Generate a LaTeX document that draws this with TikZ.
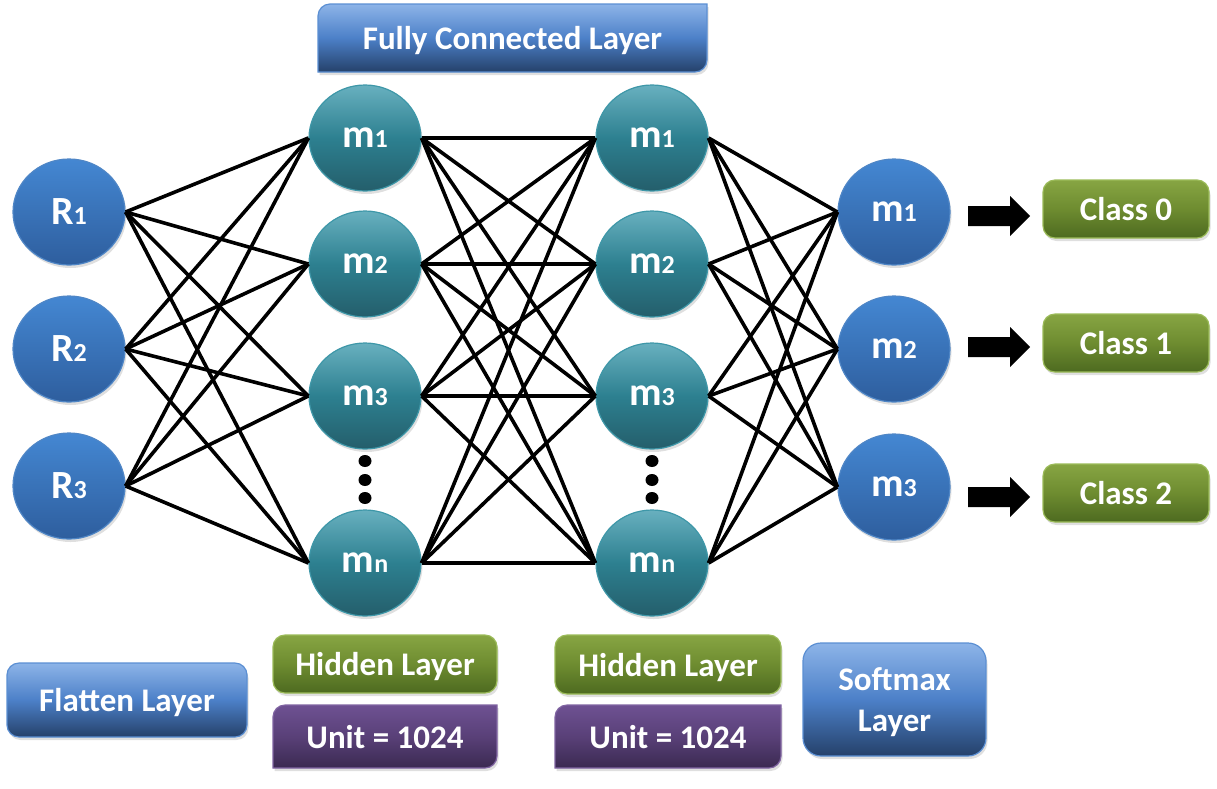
\documentclass[tikz,border=0pt]{standalone}
\usepackage{fontspec}
\setmainfont{Carlito}
\usetikzlibrary{shapes.geometric,shadows,calc}
\definecolor{btop}{HTML}{4487D2}
\definecolor{bbot}{HTML}{2E5E9E}
\definecolor{bbord}{HTML}{4F86C6}
\definecolor{ttop}{HTML}{68B0BF}
\definecolor{tmid}{HTML}{2D8090}
\definecolor{tbot}{HTML}{245E6B}
\definecolor{tbord}{HTML}{3E97A8}
\definecolor{lbtop}{HTML}{8DB4E8}
\definecolor{lbmid}{HTML}{4C80C8}
\definecolor{lbbot}{HTML}{25416A}
\definecolor{lbbord}{HTML}{5B8FD3}
\definecolor{gtop}{HTML}{87A543}
\definecolor{gmid}{HTML}{6E8C30}
\definecolor{gbot}{HTML}{4D6A20}
\definecolor{gbord}{HTML}{9BBB59}
\definecolor{ptop}{HTML}{6E5192}
\definecolor{pmid}{HTML}{594078}
\definecolor{pbot}{HTML}{3B2A51}
\definecolor{pbord}{HTML}{8064A2}
\newcommand\neulab[2]{\raisebox{-3pt}{\fontsize{40}{40}\selectfont #1\fontsize{26}{26}\selectfont #2}}
\newcommand\halfbox[7]{%
  \path[#6] (#2,{-#3-12}) arc[start angle=180,end angle=90,radius=12] -- (#4,-#3)
     -- (#4,{-#5+12}) arc[start angle=0,end angle=-90,radius=12] -- (#2,-#5) -- cycle;
  \node[boxtext] (#1) at ({(#2+#4)/2},{-(#3+#5)/2}) {#7};}
\tikzset{
  shad/.style={drop shadow={shadow xshift=1.5pt,shadow yshift=-3pt,opacity=0.25}},
  neuron/.style={ellipse,minimum width=112pt,minimum height=106pt,inner sep=0pt,
     text=white,font=\bfseries,shad,line width=1.2pt},
  bneuron/.style={neuron,draw=bbord,top color=btop,bottom color=bbot},
  tneuron/.style={neuron,draw=tbord,top color=ttop,bottom color=tbot,middle color=tmid},
  boxtext/.style={text=white,font=\fontsize{33}{41}\selectfont\bfseries,text depth=0pt,align=center,inner sep=0pt},
  blubox/.style={draw=lbbord,line width=1.2pt,top color=lbtop,bottom color=lbbot,middle color=lbmid,shad},
  grnbox/.style={draw=gbord,line width=1.2pt,top color=gtop,bottom color=gbot,middle color=gmid,shad},
  purbox/.style={draw=pbord,line width=1.2pt,top color=ptop,bottom color=pbot,middle color=pmid,shad},
  rbox/.style={rectangle,rounded corners=12pt,boxtext},
  conn/.style={line width=3.6pt,black},
  blockarrow/.style={fill=black},
  dotmark/.style={fill=black}
}
\begin{document}
\begin{tikzpicture}[x=1pt,y=1pt]
\useasboundingbox (0,0) rectangle (1217,-788);
% input
\node[bneuron] (R1) at (69,-212) {\neulab{R}{1}};
\node[bneuron] (R2) at (69,-349) {\neulab{R}{2}};
\node[bneuron] (R3) at (69,-486) {\neulab{R}{3}};
% hidden 1
\node[tneuron] (A1) at (365,-138) {\neulab{m}{1}};
\node[tneuron] (A2) at (365,-264) {\neulab{m}{2}};
\node[tneuron] (A3) at (365,-396) {\neulab{m}{3}};
\node[tneuron] (An) at (365,-563) {\neulab{m}{n}};
% hidden 2
\node[tneuron] (B1) at (652,-138) {\neulab{m}{1}};
\node[tneuron] (B2) at (652,-264) {\neulab{m}{2}};
\node[tneuron] (B3) at (652,-396) {\neulab{m}{3}};
\node[tneuron] (Bn) at (652,-563) {\neulab{m}{n}};
% output
\node[bneuron] (O1) at (894,-212) {\neulab{m}{1}};
\node[bneuron] (O2) at (894,-349) {\neulab{m}{2}};
\node[bneuron] (O3) at (894,-487) {\neulab{m}{3}};
% dots
\foreach \x in {365,652}{
  \foreach \y in {461,480,498}{
    \fill[dotmark] (\x,-\y) ellipse (6.5pt and 6pt);
  }
}
% connections
\foreach \a in {R1,R2,R3}{
  \foreach \b in {A1,A2,A3,An}{
    \draw[conn] (\a.east) -- (\b.west);
  }
}
\foreach \a in {A1,A2,A3,An}{
  \foreach \b in {B1,B2,B3,Bn}{
    \draw[conn] (\a.east) -- (\b.west);
  }
}
\foreach \a in {B1,B2,B3,Bn}{
  \foreach \b in {O1,O2,O3}{
    \draw[conn] (\a.east) -- (\b.west);
  }
}
% class boxes
\node[rbox,grnbox,minimum width=166pt,minimum height=58pt] (C0) at (1126,-209) {Class 0};
\node[rbox,grnbox,minimum width=166pt,minimum height=58pt] (C1) at (1126,-343) {Class 1};
\node[rbox,grnbox,minimum width=166pt,minimum height=58pt] (C2) at (1126,-493) {Class 2};
% block arrows
\coordinate (a0) at (968,-216);
\coordinate (a1) at (968,-347);
\coordinate (a2) at (968,-497);
\foreach \c in {a0,a1,a2}{
  \fill[blockarrow] (\c) ++(0,10) -- ++(42,0) -- ++(0,10) -- ++(20,-20) -- ++(-20,-20) -- ++(0,10) -- ++(-42,0) -- cycle;
}
% layer labels
\halfbox{FC}{318}{4}{707}{72}{blubox}{Fully Connected Layer}
\node[rbox,blubox,minimum width=240pt,minimum height=74pt] (FL) at (127,-700) {Flatten Layer};
\node[rbox,grnbox,minimum width=224pt,minimum height=58pt] (HL1) at (385,-664) {Hidden Layer};
\node[rbox,grnbox,minimum width=226pt,minimum height=59pt] (HL2) at (668,-664.5) {Hidden Layer};
\halfbox{U1}{273}{705}{497}{768}{purbox}{Unit = 1024}
\halfbox{U2}{555}{705}{781}{768}{purbox}{Unit = 1024}
\node[rbox,blubox,rounded corners=18pt,minimum width=183pt,minimum height=113pt] (SM) at (894.5,-699.5) {Softmax\\Layer};
\end{tikzpicture}
\end{document}
